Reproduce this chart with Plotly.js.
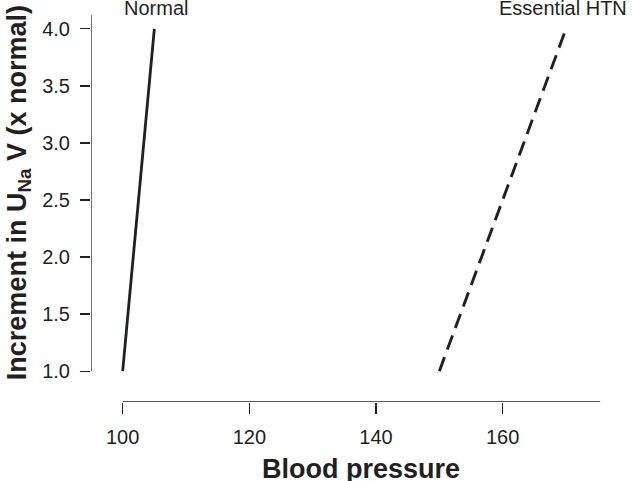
<!DOCTYPE html>
<html>
<head>
<meta charset="utf-8">
<script src="https://cdn.plot.ly/plotly-3.0.1.min.js"></script>
<style>
  html, body { margin: 0; padding: 0; background: #fff; }
  #chart { width: 634px; height: 481px; }
</style>
</head>
<body>
<div id="chart"></div>
<script>
// values
var normalBP = [100, 105];
var normalUNaV = [1.0, 4.0];
var htnBP = [150, 170];
var htnUNaV = [1.0, 4.0];

var xTicks = [100, 120, 140, 160];
var yTicks = [1.0, 1.5, 2.0, 2.5, 3.0, 3.5, 4.0];

var seriesNames = ["Normal", "Essential HTN"];
var xTitle = "Blood pressure";
var yTitle = "Increment in U<sub>Na</sub> V (x normal)";

// detached axis lines, like the original
var xLineFrom = 100, xLineTo = 175.4;
var yLineFrom = 1.0, yLineTo = 4.12;

var ink = "#231f20";
var fontFam = "Liberation Sans, Arial, Helvetica, sans-serif";

var traceNormal = {
  x: normalBP,
  y: normalUNaV,
  mode: 'lines',
  name: seriesNames[0],
  line: {color: ink, width: 2.8},
  hoverinfo: 'none',
  showlegend: false
};

var traceHTN = {
  x: htnBP,
  y: htnUNaV,
  mode: 'lines',
  name: seriesNames[1],
  line: {color: ink, width: 2.9, dash: "15px,8px"},
  hoverinfo: 'none',
  showlegend: false
};

var layout = {
  width: 634,
  height: 481,
  margin: {l: 91, r: 30, t: 6, b: 79},
  paper_bgcolor: '#fff',
  plot_bgcolor: '#fff',
  font: {family: fontFam, color: ink},
  xaxis: {
    range: [95, 176],
    tickvals: xTicks,
    ticktext: xTicks.map(String),
    ticks: 'outside',
    ticklen: 11,
    tickwidth: 1.3,
    tickcolor: ink,
    ticklabelstandoff: 6,
    tickfont: {size: 20, color: ink},
    showline: false,
    showgrid: false,
    zeroline: false,
    fixedrange: true
  },
  yaxis: {
    range: [0.73, 4.2],
    tickvals: yTicks,
    ticktext: yTicks.map(function (v) { return v.toFixed(1); }),
    ticks: 'outside',
    ticklen: 10,
    tickwidth: 1.3,
    tickcolor: ink,
    ticklabelstandoff: 6,
    tickfont: {size: 20, color: ink},
    showline: false,
    showgrid: false,
    zeroline: false,
    fixedrange: true
  },
  shapes: [
    {type: 'line', xref: 'x', yref: 'y', x0: xLineFrom, x1: xLineTo, y0: 0.73, y1: 0.73,
     line: {color: ink, width: 1.3}},
    {type: 'line', xref: 'x', yref: 'y', x0: 95, x1: 95, y0: yLineFrom, y1: yLineTo,
     line: {color: ink, width: 1.3}}
  ],
  annotations: [
    {x: 105.2, y: 4.18, xref: 'x', yref: 'y', text: seriesNames[0], showarrow: false,
     xanchor: 'center', yanchor: 'middle', font: {size: 20, color: ink}},
    {x: 169.6, y: 4.18, xref: 'x', yref: 'y', text: seriesNames[1], showarrow: false,
     xanchor: 'center', yanchor: 'middle', font: {size: 20, color: ink}},
    // axis titles, centred on the drawn axis lines
    {x: (xLineFrom + xLineTo) / 2, y: 0, xref: 'x', yref: 'paper', yshift: -50,
     text: xTitle, showarrow: false, xanchor: 'center', yanchor: 'top',
     font: {size: 27, color: ink, weight: 'bold'}},
    {x: 0, y: (yLineFrom + yLineTo) / 2, xref: 'paper', yref: 'y', xshift: -72,
     text: yTitle, showarrow: false, textangle: -90, xanchor: 'center', yanchor: 'middle',
     font: {size: 27, color: ink, weight: 'bold'}}
  ]
};

Plotly.newPlot('chart', [traceNormal, traceHTN], layout, {displayModeBar: false, staticPlot: true});
</script>
</body>
</html>
